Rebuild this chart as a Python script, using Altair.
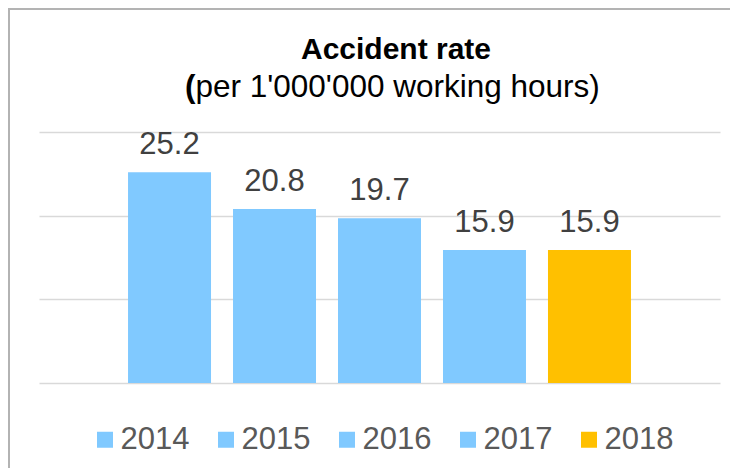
import altair as alt
import pandas as pd

years = ["2014", "2015", "2016", "2017", "2018"]
rates = [25.2, 20.8, 19.7, 15.9, 15.9]
bar_colors = ["#80C9FF", "#80C9FF", "#80C9FF", "#80C9FF", "#FFC000"]
y_ticks = [0, 10, 20, 30]
title_text = "Accident rate"
subtitle_open = "("
subtitle_rest = "per 1'000'000 working hours)"

df = pd.DataFrame({"year": years, "rate": rates})
one = pd.DataFrame({"k": [0]})

FONT = "Liberation Sans"

x_enc = alt.X("year:N", sort=years,
              scale=alt.Scale(paddingInner=0.2095, paddingOuter=0.848),
              axis=None)
y_enc = alt.Y("rate:Q", scale=alt.Scale(domain=[0, 30]),
              axis=alt.Axis(values=y_ticks, labels=False, ticks=False, domain=False,
                            title=None, grid=True, gridColor="#D9D9D9", gridWidth=1.5))

bars = alt.Chart(df).mark_bar().encode(
    x=x_enc,
    y=y_enc,
    color=alt.Color("year:N",
                    scale=alt.Scale(domain=years, range=bar_colors),
                    legend=alt.Legend(orient="none", legendX=50.5, legendY=292,
                                      direction="horizontal", title=None,
                                      symbolType="square", symbolSize=256,
                                      symbolStrokeWidth=0, symbolOpacity=1,
                                      labelFont=FONT, labelFontSize=31,
                                      labelColor="#595959", labelOffset=0,
                                      columnPadding=21, padding=0)),
)

labels = alt.Chart(df).mark_text(baseline="alphabetic", dy=-18, fontSize=31,
                                 color="#404040", font=FONT).encode(
    x=x_enc,
    y=alt.Y("rate:Q"),
    text=alt.Text("rate:Q", format=".1f"),
)

title_mark = alt.Chart(one).mark_text(
    text=title_text, font=FONT, fontSize=30, fontWeight="bold", color="#000000",
    align="center", baseline="alphabetic").encode(x=alt.value(357), y=alt.value(-73))
sub_open = alt.Chart(one).mark_text(
    text=subtitle_open, font=FONT, fontSize=31.5, fontWeight="bold", color="#000000",
    align="left", baseline="alphabetic").encode(x=alt.value(146), y=alt.value(-35))
sub_rest = alt.Chart(one).mark_text(
    text=subtitle_rest, font=FONT, fontSize=31.5, color="#000000",
    align="left", baseline="alphabetic").encode(x=alt.value(156.5), y=alt.value(-35))

border_top = alt.Chart(one).mark_rule(color="#B3B3B3", strokeWidth=2).encode(
    x=alt.value(-31), x2=alt.value(691), y=alt.value(-123))
border_left = alt.Chart(one).mark_rule(color="#B3B3B3", strokeWidth=2).encode(
    x=alt.value(-30), y=alt.value(-124), y2=alt.value(336))

chart = alt.layer(bars, labels, title_mark, sub_open, sub_rest,
                  border_top, border_left).properties(
    width=681,
    height=251,
    autosize=alt.AutoSizeParams(type="none"),
    padding={"left": 31, "top": 124, "right": 10, "bottom": 85},
    background="white",
).configure_view(stroke=None)

chart.save("out.html", embed_options={"renderer": "svg", "actions": False})
